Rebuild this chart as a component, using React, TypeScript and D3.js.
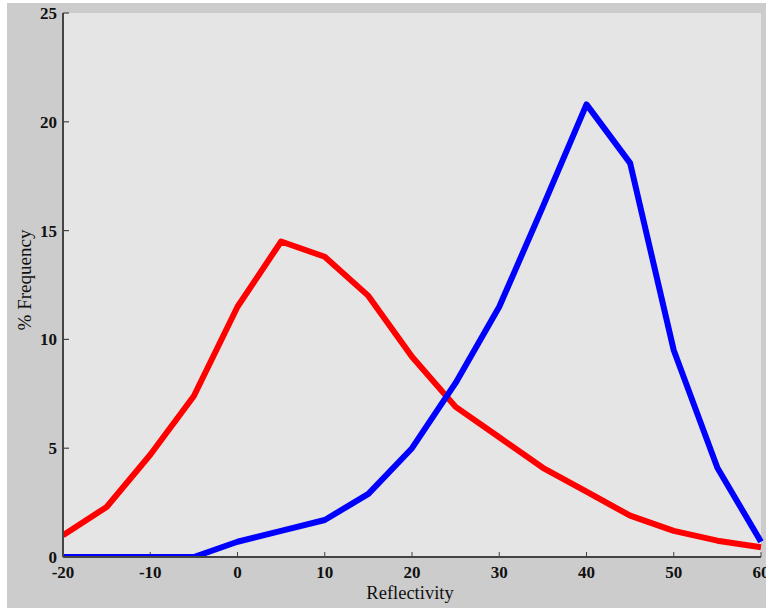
import React from "react";
import * as d3 from "d3";

const xValues = [-20, -15, -10, -5, 0, 5, 10, 15, 20, 25, 30, 35, 40, 45, 50, 55, 60];
const redSeries = [1.0, 2.3, 4.7, 7.4, 11.5, 14.5, 13.8, 12.0, 9.2, 6.9, 5.5, 4.1, 3.0, 1.9, 1.2, 0.75, 0.45];
const blueSeries = [0, 0, 0, 0, 0.7, 1.2, 1.7, 2.9, 5.0, 8.0, 11.5, 16.1, 20.8, 18.1, 9.5, 4.1, 0.7];
const xTicks = [-20, -10, 0, 10, 20, 30, 40, 50, 60];
const yTicks = [0, 5, 10, 15, 20, 25];

const W = 766;
const H = 608;
const left = 63;
const right = 761;
const top = 13;
const bottom = 557;

export default function App() {
  const x = d3.scaleLinear().domain([-20, 60]).range([left, right]);
  const y = d3.scaleLinear().domain([0, 25]).range([bottom, top]);
  const line = d3
    .line<number>()
    .x((_, i) => x(xValues[i]))
    .y((d) => y(d));
  const font = "'Liberation Serif', 'DejaVu Serif', serif";
  return (
    <svg
      width={W}
      height={H}
      style={{ position: "absolute", left: 0, top: 0 }}
    >
      <rect x={0} y={0} width={W} height={H} fill="#ffffff" />
      <rect x={7} y={3} width={W - 7} height={H - 3} fill="#cccccc" />
      <rect x={left} y={top} width={right - left} height={bottom - top} fill="#e5e5e5" />
      <defs>
        <clipPath id="plotclip">
          <rect x={left} y={top - 5} width={right - left + 3} height={bottom - top + 5} />
        </clipPath>
      </defs>
      {xTicks.map((t) => (
        <line key={"xt" + t} x1={x(t)} x2={x(t)} y1={bottom} y2={bottom - 5} stroke="#444" strokeWidth={1} />
      ))}
      {yTicks.map((t) => (
        <line key={"yt" + t} x1={left} x2={left + 6} y1={y(t)} y2={y(t)} stroke="#444" strokeWidth={1.2} />
      ))}
      <g clipPath="url(#plotclip)">
        <path d={line(redSeries) || ""} fill="none" stroke="#ff0000" strokeWidth={6} strokeLinejoin="round" />
        <path d={line(blueSeries) || ""} fill="none" stroke="#0000ff" strokeWidth={6} strokeLinejoin="round" />
      </g>
      <line x1={left} x2={left} y1={top} y2={bottom} stroke="#444" strokeWidth={2} />
      <line x1={left} x2={right} y1={bottom} y2={bottom} stroke="#444" strokeWidth={2} />
      {yTicks.map((t) => (
        <text
          key={"yl" + t}
          x={left - 6}
          y={y(t) + 6}
          textAnchor="end"
          fontFamily={font}
          fontSize={17}
          fontWeight="bold"
          fill="#111"
        >
          {t}
        </text>
      ))}
      {xTicks.map((t) => (
        <text
          key={"xl" + t}
          x={x(t)}
          y={bottom + 21}
          textAnchor="middle"
          fontFamily={font}
          fontSize={17}
          fontWeight="bold"
          fill="#111"
        >
          {t}
        </text>
      ))}
      <text
        x={410}
        y={599}
        textAnchor="middle"
        fontFamily={font}
        fontSize={18.5}
        fill="#111"
      >
        Reflectivity
      </text>
      <text
        transform={`translate(31, 280) rotate(-90)`}
        textAnchor="middle"
        fontFamily={font}
        fontSize={19}
        fill="#111"
      >
        % Frequency
      </text>
    </svg>
  );
}
